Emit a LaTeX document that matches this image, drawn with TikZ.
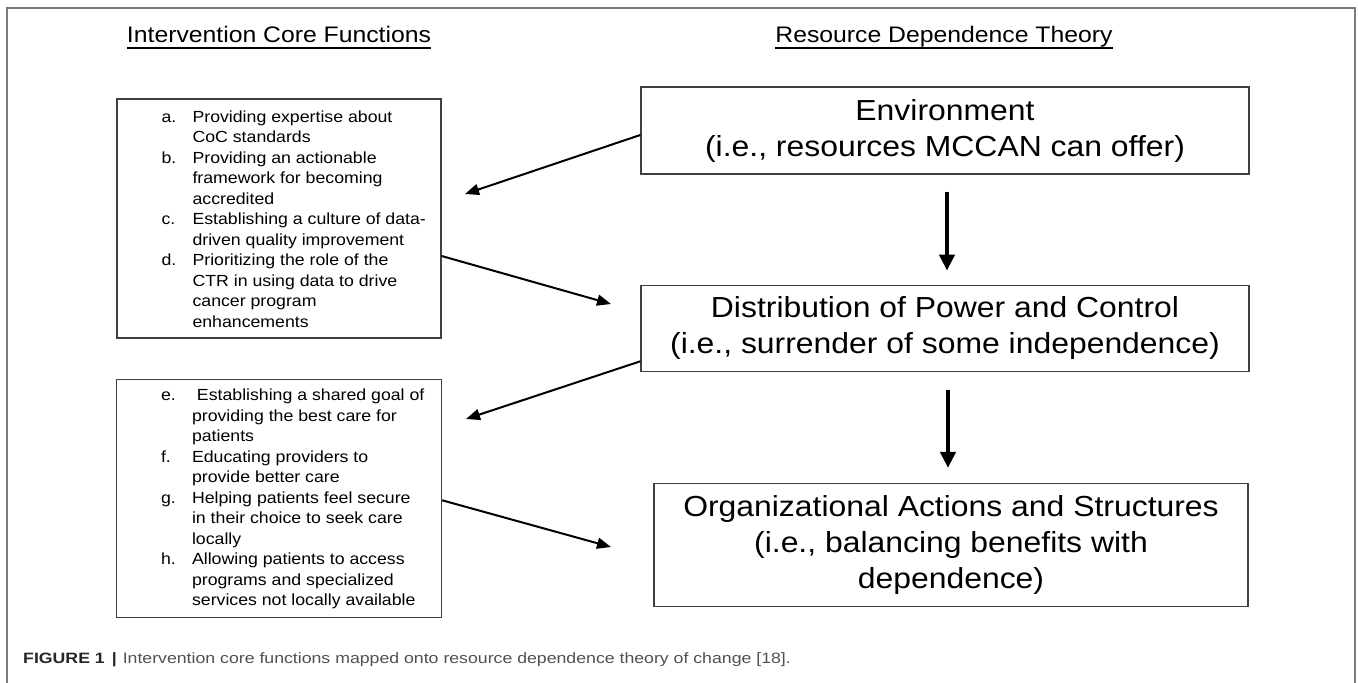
\documentclass[tikz,border=0pt]{standalone}
\usepackage{fontspec}
\setmainfont{Liberation Sans}[FakeStretch=1.1]
\newfontfamily\capfont{Liberation Sans}[FakeStretch=1.18]
\usepackage{xcolor}
\usetikzlibrary{positioning, arrows.meta}
\definecolor{framegray}{HTML}{7A7A7A}
\definecolor{boxgray}{HTML}{404040}
\definecolor{capgray}{HTML}{505050}
\tikzset{
    x = 1pt, y = 1pt,                                                  % Work in points
    rdbox/.style={draw=boxgray, line width=1.3pt, align=center,
                  font=\fontsize{29}{36}\selectfont},                  % Boxes of the theory
    cfbox/.style={draw=boxgray, line width=1.3pt,
                  minimum width=324pt, minimum height=239pt},          % Boxes of the core functions
    cflist/.style={anchor=west, inner sep=0pt, align=left,
                   font=\fontsize{16.1}{20.5}\selectfont},             % Lettered lists
    heading/.style={inner sep=0pt, font=\fontsize{22.5}{27}\selectfont}, % Column headings
    diagarrow/.style={line width=2pt, -{Triangle[length=14pt, width=11pt]}},  % Slanted arrows
    downarrow/.style={line width=4pt, -{Triangle[length=16pt, width=15pt]}}   % Arrows between theory boxes
}

\begin{document}
\begin{tikzpicture}
            \useasboundingbox (0,0) rectangle (1358,683);
            \draw[framegray, line width=1.5pt] (7,0) |- (1355,675) -- (1355,0);

            % Define headings
            \node [heading, anchor=base] (ictitle) at (279,640) {Intervention Core Functions};
            \node [heading, anchor=base] (rdtitle) at (944,640) {Resource Dependence Theory};
            \draw[line width=1.2pt] ([yshift=-5pt]ictitle.base west) -- ([yshift=-5pt]ictitle.base east);
            \draw[line width=1.2pt] ([yshift=-5pt]rdtitle.base west) -- ([yshift=-5pt]rdtitle.base east);

            % Define theory boxes
            \node [rdbox, minimum width=608pt, minimum height=87pt] (env) at (945,552.5)
                {Environment\\(i.e., resources MCCAN can offer)};
            \node [rdbox, minimum width=608pt, minimum height=86pt, below=110pt of env] (pow)
                {Distribution of Power and Control\\(i.e., surrender of some independence)};
            \node [rdbox, minimum width=594pt, minimum height=123pt, below=111pt of pow, xshift=6pt] (org)
                {Organizational Actions and Structures\\(i.e., balancing benefits with\\dependence)};

            % Define core function boxes
            \node [cfbox] (cf1) at (279,464.5) {};
            \node [cfbox, minimum width=325pt, minimum height=238pt, below=40pt of cf1] (cf2) {};
            \node [cflist] (list1) at ([xshift=45pt, yshift=-2pt]cf1.west) {%
                \begin{tabular}{@{}p{31pt}@{}l@{}}
                a. & Providing expertise about\\
                   & CoC standards\\
                b. & Providing an actionable\\
                   & framework for becoming\\
                   & accredited\\
                c. & Establishing a culture of data-\\
                   & driven quality improvement\\
                d. & Prioritizing the role of the\\
                   & CTR in using data to drive\\
                   & cancer program\\
                   & enhancements
                \end{tabular}};
            \node [cflist] (list2) at ([xshift=45pt, yshift=-1pt]cf2.west) {%
                \begin{tabular}{@{}p{31pt}@{}l@{}}
                e. & \ Establishing a shared goal of\\
                   & providing the best care for\\
                   & patients\\
                f. & Educating providers to\\
                   & provide better care\\
                g. & Helping patients feel secure\\
                   & in their choice to seek care\\
                   & locally\\
                h. & Allowing patients to access\\
                   & programs and specialized\\
                   & services not locally available
                \end{tabular}};

            % Free arrow ends
            \coordinate (tipA) at (465,489);
            \coordinate (tipB) at (611,379);
            \coordinate (tipC) at (466,264);
            \coordinate (tipD) at (611,136);

            % Draw arrows
            \draw[diagarrow] ([yshift=-4.5pt]env.west) -- (tipA);
            \draw[diagarrow] ([yshift=-37.5pt]cf1.east) -- (tipB);
            \draw[diagarrow] ([yshift=-33pt]pow.west) -- (tipC);
            \draw[diagarrow] ([yshift=-2pt]cf2.east) -- (tipD);
            \draw[downarrow] ([xshift=2pt, yshift=-17pt]env.south) -- ([xshift=2pt, yshift=14pt]pow.north);
            \draw[downarrow] ([xshift=3pt, yshift=-18pt]pow.south) -- ([xshift=-3pt, yshift=15pt]org.north);

            % Caption
            \node [anchor=west, inner sep=0pt, font=\capfont\fontsize{15}{18}\selectfont] (caption) at (23,23)
                {\textcolor{black!85}{\bfseries FIGURE 1}\hspace{7pt}\textcolor{black!85}{\bfseries |}\hspace{6pt}\textcolor{capgray}{Intervention core functions mapped onto resource dependence theory of change [18].}};
\end{tikzpicture}
\end{document}
